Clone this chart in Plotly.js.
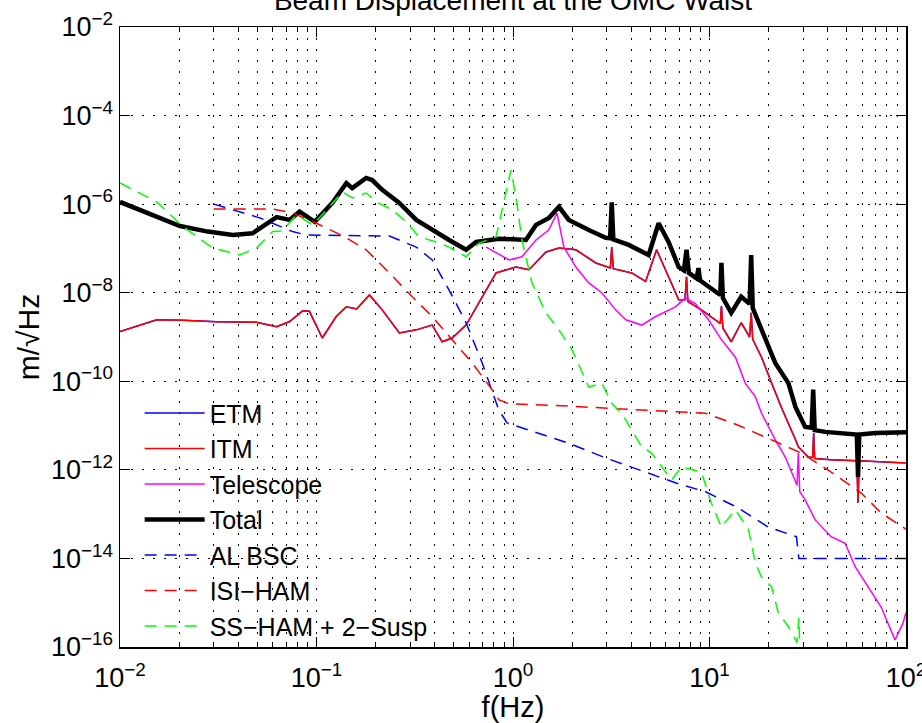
<!DOCTYPE html>
<html>
<head>
<meta charset="utf-8">
<script src="https://cdn.plot.ly/plotly-3.0.1.min.js"></script>
<style>html,body{margin:0;padding:0;background:#fff;}#chart{width:922px;height:723px;}</style>
</head>
<body>
<div id="chart"></div>
<script>
// ---- Data ----
const totalF = [0.01, 0.0202, 0.028, 0.0375, 0.0473, 0.0627, 0.073, 0.082, 0.098, 0.1205, 0.142, 0.152, 0.179, 0.192, 0.216, 0.264, 0.322, 0.388, 0.473, 0.577, 0.649, 0.849, 1.164, 1.309, 1.524, 1.714, 1.923, 2.43, 2.965, 3.12, 3.18, 3.24, 3.88, 4.90, 5.51, 6.19, 6.97, 7.41, 7.64, 7.85, 8.6, 8.79, 8.95, 9.33, 10.7, 11.35, 11.5, 11.7, 12.9, 14.5, 16.0, 16.3, 16.6, 18.4, 21.6, 25.2, 27.4, 30.7, 33.1, 33.7, 34.3, 38.8, 50.8, 56.2, 57.0, 57.8, 69.7, 100];
const totalY = [1.12e-6, 3.2e-7, 2.4e-7, 2.0e-7, 2.2e-7, 5.1e-7, 4.4e-7, 6.8e-7, 4.0e-7, 1.07e-6, 3.0e-6, 2.3e-6, 3.9e-6, 3.5e-6, 2.1e-6, 1.07e-6, 4.4e-7, 2.6e-7, 1.55e-7, 9.3e-8, 1.4e-7, 1.66e-7, 1.55e-7, 3.4e-7, 4.9e-7, 8.7e-7, 4.4e-7, 2.6e-7, 1.74e-7, 1.7e-7, 1.1e-6, 1.6e-7, 1.2e-7, 7.1e-8, 3.7e-7, 1.4e-7, 3.8e-8, 3.2e-8, 9.3e-8, 2.8e-8, 2.1e-8, 3.6e-8, 1.9e-8, 1.66e-8, 1.12e-8, 8.9e-9, 4.7e-8, 7.6e-9, 3.5e-9, 8.1e-9, 5.6e-9, 7.1e-8, 4.5e-9, 1.45e-9, 2.6e-10, 9.1e-11, 2.6e-11, 9.3e-12, 8.9e-12, 6.5e-11, 7.9e-12, 7.2e-12, 6.8e-12, 6.3e-12, 6.9e-13, 6.3e-12, 6.8e-12, 7.1e-12];

const itmF = [0.01, 0.0154, 0.0209, 0.031, 0.0495, 0.0627, 0.073, 0.085, 0.092, 0.107, 0.126, 0.142, 0.160, 0.186, 0.216, 0.264, 0.322, 0.388, 0.436, 0.490, 0.577, 0.697, 0.820, 1.035, 1.205, 1.472, 1.714, 2.09, 2.64, 3.13, 3.18, 3.24, 4.02, 4.73, 5.38, 6.19, 6.97, 7.5, 7.64, 7.76, 9.1, 10.7, 11.35, 11.5, 11.7, 12.9, 14.5, 16.0, 16.3, 16.6, 18.4, 20.7, 23.2, 27.4, 28.3, 31.8, 33.5, 33.9, 34.3, 41.6, 56.2, 57.0, 57.8, 94.4, 100];
const itmY = [1.32e-9, 2.45e-9, 2.4e-9, 2.2e-9, 2.14e-9, 1.7e-9, 2.24e-9, 3.9e-9, 3.8e-9, 9.5e-10, 2.9e-9, 4.8e-9, 4.3e-9, 8.9e-9, 4.1e-9, 1.23e-9, 1.45e-9, 1.86e-9, 7.8e-10, 9.5e-10, 1.86e-9, 8.1e-9, 2.8e-8, 3.8e-8, 3.3e-8, 8.3e-8, 1.02e-7, 9.3e-8, 4.7e-8, 3.6e-8, 1.07e-7, 3.5e-8, 2.8e-8, 1.8e-8, 9.3e-8, 2.3e-8, 6.9e-9, 6.9e-9, 2.3e-8, 6.3e-9, 4.1e-9, 2.45e-9, 2.0e-9, 5.0e-9, 1.6e-9, 7.8e-10, 2.1e-9, 1.0e-9, 3.5e-9, 8.9e-10, 3.5e-10, 9.1e-11, 2.6e-11, 4.8e-12, 3.3e-12, 1.95e-12, 1.9e-12, 6.8e-12, 1.8e-12, 1.7e-12, 1.6e-12, 1.8e-13, 1.6e-12, 1.45e-12, 1.45e-12];

// ETM follows ITM almost exactly in the reference (it is hidden beneath it)
const etmF = itmF.slice();
const etmY = itmY.slice();

const telF = [0.73, 0.83, 0.955, 1.11, 1.31, 1.52, 1.675, 1.815, 2.09, 2.43, 2.83, 3.33, 3.75, 4.52, 5.32, 6.71, 7.55, 8.49, 9.89, 11.5, 13.55, 15.2, 17.1, 18.4, 21.6, 24.3, 27.4, 27.9, 28.3, 28.8, 30.7, 34.5, 41.6, 49.0, 55.1, 64.1, 74.6, 87.9, 96.6, 100];
const telY = [1.07e-7, 7.9e-8, 5.5e-8, 6.5e-8, 1.55e-7, 2.6e-7, 6.3e-7, 1.07e-7, 3.8e-8, 1.66e-8, 1.0e-8, 4.1e-9, 2.45e-9, 1.86e-9, 2.9e-9, 4.8e-9, 7.6e-9, 5.6e-9, 2.45e-9, 8.7e-10, 3.5e-10, 9.1e-11, 4.5e-11, 1.9e-11, 4.8e-12, 1.95e-12, 5.1e-13, 4.5e-13, 2.4e-12, 3.2e-13, 2.1e-13, 7.4e-14, 3.1e-14, 2.2e-14, 6.5e-15, 2.3e-15, 8.1e-16, 1.45e-16, 3.5e-16, 6.0e-16];

const bscF = [0.03, 0.0349, 0.0514, 0.0755, 0.089, 0.235, 0.322, 0.388, 0.473, 0.577, 0.697, 0.794, 0.849, 0.933, 1.11, 1.92, 2.96, 4.37, 6.71, 9.55, 14.0, 19.9, 27.7, 28.5, 100];
const bscY = [1.0e-6, 8.1e-7, 4.9e-7, 2.4e-7, 2.0e-7, 1.9e-7, 1.07e-7, 5.5e-8, 1.15e-8, 2.1e-9, 2.6e-10, 5.0e-11, 2.2e-11, 1.15e-11, 8.9e-12, 4.0e-12, 1.86e-12, 1.0e-12, 5.1e-13, 3.2e-13, 1.38e-13, 5.1e-14, 3.1e-14, 1.0e-14, 1.0e-14];

const isiF = [0.03, 0.0598, 0.0755, 0.1, 0.142, 0.179, 0.235, 0.307, 0.388, 0.490, 0.619, 0.782, 0.849, 0.955, 1.92, 4.90, 9.55, 14.0, 19.9, 29.3, 41.6, 59.2, 74.6, 96.6, 100];
const isiY = [7.8e-7, 7.8e-7, 6.3e-7, 3.7e-7, 1.74e-7, 9.3e-8, 2.8e-8, 8.1e-9, 2.9e-9, 8.7e-10, 2.6e-10, 6.5e-11, 3.8e-11, 3.1e-11, 2.75e-11, 2.2e-11, 1.9e-11, 1.02e-11, 5.2e-12, 2.4e-12, 8.9e-13, 3.0e-13, 1.07e-13, 5.1e-14, 4.6e-14];

const ssF = [0.01, 0.0154, 0.0209, 0.0296, 0.0406, 0.0495, 0.0598, 0.0671, 0.079, 0.0955, 0.1164, 0.1355, 0.152, 0.179, 0.202, 0.243, 0.286, 0.333, 0.406, 0.473, 0.577, 0.671, 0.820, 0.90, 0.977, 1.047, 1.11, 1.25, 1.40, 1.47, 1.714, 2.0, 2.43, 2.83, 3.18, 3.57, 4.02, 4.52, 5.08, 5.71, 6.41, 7.21, 9.1, 10.2, 11.5, 13.55, 15.8, 17.1, 18.4, 20.7, 22.4, 25.2, 27.9, 28.5, 28.8];
const ssY = [3.0e-6, 1.12e-6, 3.1e-7, 1.02e-7, 7.1e-8, 1.02e-7, 2.4e-7, 2.5e-7, 5.8e-7, 3.4e-7, 8.7e-7, 1.9e-6, 1.38e-6, 1.78e-6, 1.12e-6, 7.4e-7, 4.0e-7, 1.82e-7, 1.4e-7, 1.07e-7, 6.5e-8, 1.32e-7, 1.82e-7, 1.26e-6, 5.9e-6, 1.07e-6, 1.55e-7, 1.66e-8, 5.9e-9, 3.5e-9, 1.45e-9, 5.1e-10, 7.4e-11, 9.1e-11, 3.2e-11, 1.9e-11, 7.9e-12, 3.3e-12, 2.4e-12, 1.17e-12, 5.9e-13, 1.17e-12, 8.9e-13, 1.8e-13, 5.1e-14, 1.26e-13, 4.5e-14, 7.9e-15, 3.8e-15, 2.3e-15, 5.9e-16, 2.9e-16, 1.26e-16, 4.5e-16, 1.0e-16];

const xTickVals = [0.01, 0.1, 1, 10, 100];
const xTickText = ['10<sup>\u22122</sup>', '10<sup>\u22121</sup>', '10<sup>0</sup>', '10<sup>1</sup>', '10<sup>2</sup>'];
const yTickVals = [1e-16, 1e-14, 1e-12, 1e-10, 1e-8, 1e-6, 1e-4, 1e-2];
const yTickText = ['10<sup>\u221216</sup>', '10<sup>\u221214</sup>', '10<sup>\u221212</sup>', '10<sup>\u221210</sup>', '10<sup>\u22128</sup>', '10<sup>\u22126</sup>', '10<sup>\u22124</sup>', '10<sup>\u22122</sup>'];

// minor x ticks (2..9 in each decade)
const xMinor = [];
[0.01, 0.1, 1, 10].forEach(d => { for (let k = 2; k <= 9; k++) xMinor.push(d * k); });

const FONT = '"Liberation Sans", Arial, Helvetica, sans-serif';
const DASH = '12px,8px';
const GRIDDASH = '2px,9px';

const traces = [
  {name: 'ETM', x: etmF, y: etmY, mode: 'lines', line: {color: '#0000ff', width: 1.5}},
  {name: 'ITM', x: itmF, y: itmY, mode: 'lines', line: {color: '#ff0000', width: 1.5}},
  {name: 'Telescope', x: telF, y: telY, mode: 'lines', line: {color: '#ff00ff', width: 1.5}},
  {name: 'Total', x: totalF, y: totalY, mode: 'lines', line: {color: '#000000', width: 4.5}},
  {name: 'AL BSC', x: bscF, y: bscY, mode: 'lines', line: {color: '#0000ff', width: 1.5, dash: DASH}},
  {name: 'ISI\u2212HAM', x: isiF, y: isiY, mode: 'lines', line: {color: '#ff0000', width: 1.5, dash: DASH}},
  {name: 'SS\u2212HAM + 2\u2212Susp', x: ssF, y: ssY, mode: 'lines', line: {color: '#00ff00', width: 1.5, dash: DASH}}
];

const gridStyle = {gridcolor: '#000000', gridwidth: 1, griddash: GRIDDASH};

const layout = {
  width: 922, height: 723,
  margin: {l: 120, r: 16, t: 27, b: 76},
  paper_bgcolor: '#ffffff', plot_bgcolor: '#ffffff',
  font: {family: FONT, color: '#000000', size: 25},
  showlegend: true,
  title: {
    text: 'Beam Displacement at the OMC Waist',
    font: {family: FONT, size: 28, color: '#000000'},
    x: 0.5, xref: 'paper', xanchor: 'center',
    y: 0.986, yref: 'container', yanchor: 'bottom'
  },
  xaxis: Object.assign({
    type: 'log', range: [-2, 2],
    tickmode: 'array', tickvals: xTickVals, ticktext: xTickText,
    ticks: 'inside', ticklen: 10, tickwidth: 1, tickcolor: '#000',
    showline: true, linecolor: '#000', linewidth: 1.5, mirror: 'ticks',
    showgrid: true, zeroline: false,
    ticklabeloverflow: 'allow', ticklabelstandoff: 6,
    tickfont: {family: FONT, size: 27, color: '#000'},
    title: {text: 'f(Hz)', font: {family: FONT, size: 29, color: '#000'}, standoff: 0},
    minor: {tickmode: 'array', tickvals: xMinor, ticks: 'inside', ticklen: 5, tickcolor: '#000', showgrid: true, gridcolor: '#000', gridwidth: 1, griddash: GRIDDASH}
  }, gridStyle),
  yaxis: Object.assign({
    type: 'log', range: [-16, -2],
    tickmode: 'array', tickvals: yTickVals, ticktext: yTickText,
    ticks: 'inside', ticklen: 10, tickwidth: 1, tickcolor: '#000',
    showline: true, linecolor: '#000', linewidth: 1.5, mirror: 'ticks',
    showgrid: true, zeroline: false,
    tickfont: {family: FONT, size: 27, color: '#000'},
    title: {text: 'm/\u221AHz', font: {family: FONT, size: 30, color: '#000'}, standoff: 2}
  }, gridStyle),
  legend: {
    x: 0.025, y: 0.414, xanchor: 'left', yanchor: 'top',
    bgcolor: 'rgba(0,0,0,0)', borderwidth: 0,
    font: {family: FONT, size: 25, color: '#000'},
    tracegroupgap: 0, itemwidth: 60
  }
};

Plotly.newPlot('chart', traces, layout, {displayModeBar: false, staticPlot: true});
</script>
</body>
</html>
